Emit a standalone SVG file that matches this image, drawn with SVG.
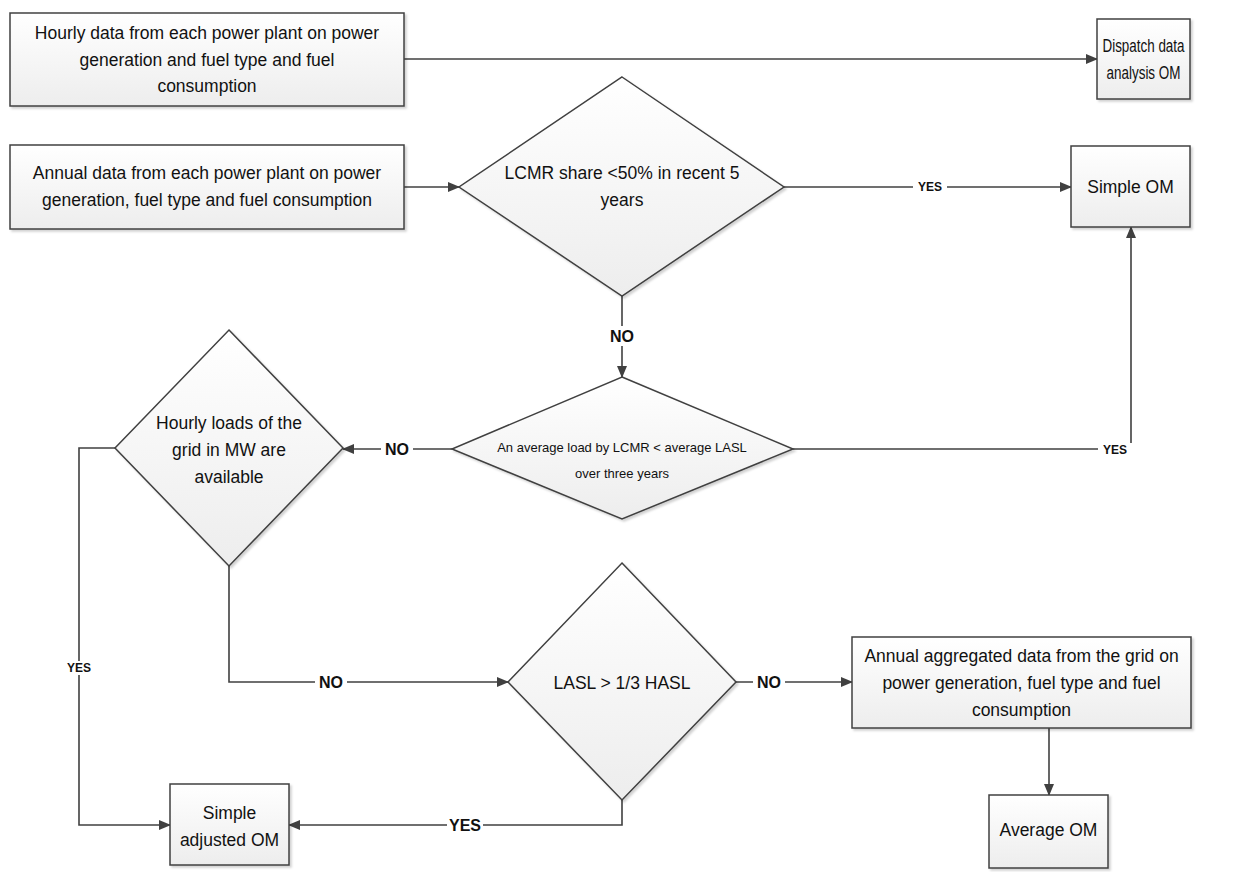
<svg xmlns="http://www.w3.org/2000/svg" width="1237" height="872" viewBox="0 0 1237 872">
<defs>
<linearGradient id="g" x1="0" y1="0" x2="0" y2="1">
<stop offset="0" stop-color="#ffffff"/>
<stop offset="1" stop-color="#ededed"/>
</linearGradient>
<filter id="sh" x="-10%" y="-10%" width="130%" height="130%">
<feDropShadow dx="2" dy="2" stdDeviation="1.2" flood-color="#000" flood-opacity="0.18"/>
</filter>
<marker id="ah" markerWidth="12" markerHeight="10" refX="11" refY="5" orient="auto" markerUnits="userSpaceOnUse">
<path d="M0,0 L12,5 L0,10 Z" fill="#404040"/>
</marker>
</defs>
<style>
.n{fill:url(#g);stroke:#404040;stroke-width:1.5;filter:url(#sh)}
.t{font-family:"Liberation Sans",Arial,sans-serif;font-size:17.5px;fill:#111;text-anchor:middle;dominant-baseline:central}
.s{font-size:13px}
.c{fill:none;stroke:#404040;stroke-width:1.6;marker-end:url(#ah)}
.l{font-family:"Liberation Sans",Arial,sans-serif;font-weight:bold;fill:#111;text-anchor:middle;dominant-baseline:central}
.lb{font-size:16px}
.ls{font-size:12px}
.bg{fill:#fff}
</style>
<rect width="1237" height="872" fill="#fff"/>
<g id="connectors">
<path class="c" d="M404,59 H1097"/>
<path class="c" d="M404,187 H459"/>
<path class="c" d="M784,187 H1071"/>
<path class="c" d="M622,296 V377"/>
<path class="c" d="M452,449 H343"/>
<path class="c" d="M793,449 H1131 V227"/>
<path class="c" d="M115,448 H79 V825 H170"/>
<path class="c" d="M229,566 V682 H508"/>
<path class="c" d="M622,800 V825 H289"/>
<path class="c" d="M736,682 H852"/>
<path class="c" d="M1049,728 V795"/>
<rect class="bg" x="913" y="180" width="34" height="14"/>
<text class="l ls" x="930" y="187">YES</text>
<rect class="bg" x="606" y="326" width="32" height="20"/>
<text class="l lb" x="622" y="336">NO</text>
<rect class="bg" x="381" y="439" width="32" height="20"/>
<text class="l lb" x="397" y="449">NO</text>
<rect class="bg" x="1098" y="443" width="34" height="14"/>
<text class="l ls" x="1115" y="450">YES</text>
<rect class="bg" x="62" y="661" width="34" height="14"/>
<text class="l ls" x="79" y="668">YES</text>
<rect class="bg" x="315" y="672" width="32" height="20"/>
<text class="l lb" x="331" y="682">NO</text>
<rect class="bg" x="753" y="672" width="32" height="20"/>
<text class="l lb" x="769" y="682">NO</text>
<rect class="bg" x="447" y="815" width="36" height="20"/>
<text class="l lb" x="465" y="825">YES</text>
</g>
<g id="hourly-data">
<rect class="n" x="10" y="13" width="394" height="93"/>
<text class="t" x="207" y="33">Hourly data from each power plant on power</text>
<text class="t" x="207" y="60">generation and fuel type and fuel</text>
<text class="t" x="207" y="86">consumption</text>
</g>
<g id="dispatch">
<rect class="n" x="1097" y="19" width="93" height="80"/>
<text class="t" x="1143.5" y="46" textLength="82" lengthAdjust="spacingAndGlyphs">Dispatch data</text>
<text class="t" x="1143.5" y="73" textLength="74" lengthAdjust="spacingAndGlyphs">analysis OM</text>
</g>
<g id="annual-data">
<rect class="n" x="10" y="145" width="394" height="84"/>
<text class="t" x="207" y="173">Annual data from each power plant on power</text>
<text class="t" x="207" y="200">generation, fuel type and fuel consumption</text>
</g>
<g id="lcmr-share">
<polygon class="n" points="622,77 784,187 622,296 459,187"/>
<text class="t" x="622" y="173">LCMR share &lt;50% in recent 5</text>
<text class="t" x="622" y="200">years</text>
</g>
<g id="simple-om">
<rect class="n" x="1071" y="146" width="119" height="81"/>
<text class="t" x="1130.5" y="187">Simple OM</text>
</g>
<g id="average-load">
<polygon class="n" points="622,377 793,449 622,519 452,449"/>
<text class="t s" x="622" y="447">An average load by LCMR &lt; average LASL</text>
<text class="t s" x="622" y="473">over three years</text>
</g>
<g id="hourly-loads">
<polygon class="n" points="229,330 343,448 229,566 115,448"/>
<text class="t" x="229" y="423">Hourly loads of the</text>
<text class="t" x="229" y="450">grid in MW are</text>
<text class="t" x="229" y="477">available</text>
</g>
<g id="lasl">
<polygon class="n" points="622,563 736,682 622,800 508,682"/>
<text class="t" x="622" y="683">LASL &gt; 1/3 HASL</text>
</g>
<g id="annual-aggregated">
<rect class="n" x="852" y="637" width="339" height="91"/>
<text class="t" x="1021.5" y="656">Annual aggregated data from the grid on</text>
<text class="t" x="1021.5" y="683">power generation, fuel type and fuel</text>
<text class="t" x="1021.5" y="710">consumption</text>
</g>
<g id="simple-adjusted-om">
<rect class="n" x="170" y="784" width="119" height="81"/>
<text class="t" x="229.5" y="813">Simple</text>
<text class="t" x="229.5" y="840">adjusted OM</text>
</g>
<g id="average-om">
<rect class="n" x="989" y="795" width="119" height="73"/>
<text class="t" x="1048.5" y="830">Average OM</text>
</g>
</svg>
